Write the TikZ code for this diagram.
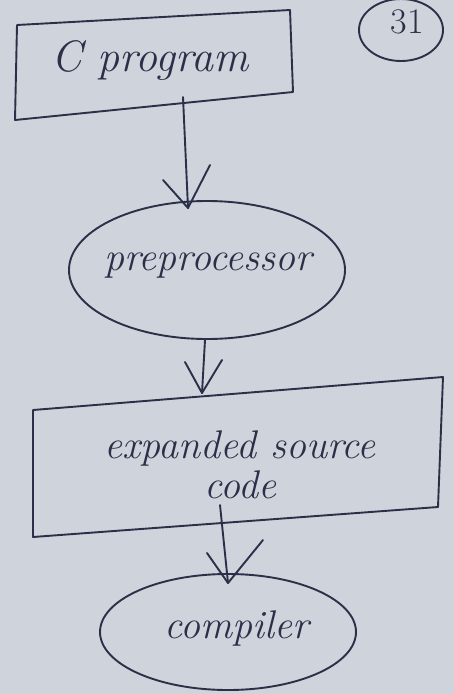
\documentclass[tikz,border=0pt]{standalone}
\usetikzlibrary{shapes.geometric}
\definecolor{paper}{HTML}{CFD3DC}
\definecolor{ink}{HTML}{2B3048}
\tikzset{
  pen/.style={draw=ink, line width=1.9pt, line cap=round, line join=round},
  label/.style={text=ink, font=\fontsize{40}{44}\selectfont\itshape, inner sep=0pt},
}
\begin{document}
\begin{tikzpicture}[x=1pt,y=-1pt]
  % page
  \fill[paper] (0,0) rectangle (454,694);
  \useasboundingbox (0,0) rectangle (454,694);

  % page number
  \node[ellipse, pen, minimum width=84, minimum height=62] (pnum) at (401,30) {};
  \node[label, font=\fontsize{36}{38}\selectfont] (pnumtxt) at (407,22) {31};

  % box: C program
  \coordinate (b1tl) at (17,25);
  \coordinate (b1tr) at (290,10);
  \coordinate (b1br) at (293,92);
  \coordinate (b1bl) at (15,120);
  \draw[pen] (b1tl) -- (b1tr) -- (b1br) -- (b1bl) -- cycle;
  \node[label, font=\fontsize{44}{48}\selectfont\itshape] (cprog) at (150,60) {C program};

  % ellipse: preprocessor
  \node[ellipse, pen, minimum width=276, minimum height=138] (pre) at (207,270) {};
  \node[label] (pretxt) at (208,266) {preprocessor};

  % box: expanded source code
  \coordinate (b2tl) at (33,410);
  \coordinate (b2tr) at (443,377);
  \coordinate (b2br) at (438,507);
  \coordinate (b2bl) at (33,537);
  \draw[pen] (b2tl) -- (b2tr) -- (b2br) -- (b2bl) -- cycle;
  \node[label, align=center] (exp) at (240,465) {expanded source\\[-4pt] code};

  % ellipse: compiler
  \node[ellipse, pen, minimum width=256, minimum height=116] (comp) at (228,632) {};
  \node[label] (comptxt) at (237,628) {compiler};

  % hand-drawn arrows: shaft plus open V head
  \coordinate (a1s) at (183,97);
  \coordinate (a1e) at (188,208);
  \draw[pen] (a1s) -- (a1e);
  \draw[pen] (163,180) -- (a1e) -- (210,165);

  \coordinate (a2s) at (205,340);
  \coordinate (a2e) at (202,393);
  \draw[pen] (a2s) -- (a2e);
  \draw[pen] (185,362) -- (a2e) -- (222,360);

  \coordinate (a3s) at (220,505);
  \coordinate (a3e) at (228,583);
  \draw[pen] (a3s) -- (a3e);
  \draw[pen] (207,553) -- (a3e) -- (263,540);
\end{tikzpicture}
\end{document}
